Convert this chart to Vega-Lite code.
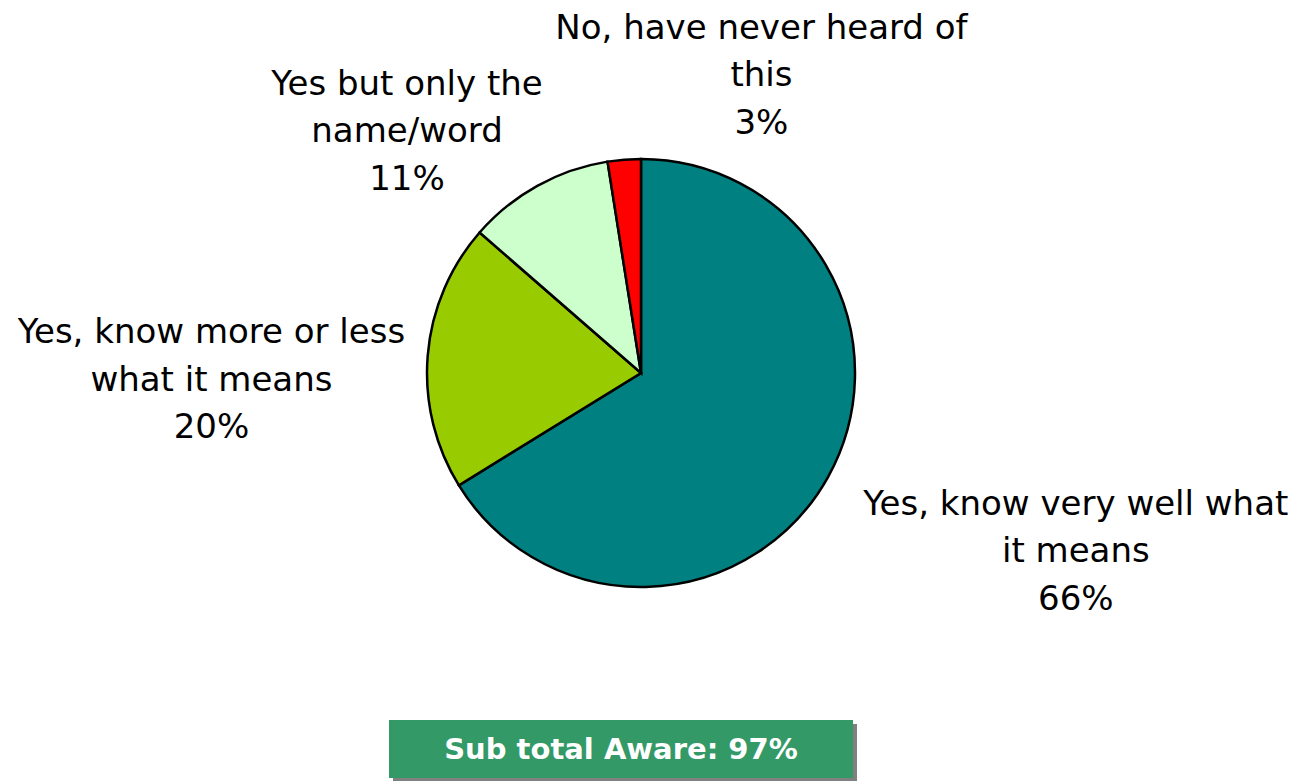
{
  "$schema": "https://vega.github.io/schema/vega-lite/v6.json",
  "padding": 0,
  "background": "white",
  "config": {"view": {"stroke": null}, "font": "DejaVu Sans"},
  "datasets": {
    "slices": [
      {"category": "Yes, know very well what it means", "value": 66.2, "order": 1, "label": "Yes, know very well what\nit means\n66%"},
      {"category": "Yes, know more or less what it means", "value": 20.2, "order": 2, "label": "Yes, know more or less\nwhat it means\n20%"},
      {"category": "Yes but only the name/word", "value": 11.1, "order": 3, "label": "Yes but only the\nname/word\n11%"},
      {"category": "No, have never heard of this", "value": 2.5, "order": 4, "label": "No, have never heard of\nthis\n3%"}
    ],
    "box": [{"text": "Sub total Aware: 97%"}]
  },
  "spacing": 20,
  "center": true,
  "vconcat": [
    {
      "width": 1298,
      "height": 700,
      "data": {"name": "slices"},
      "encoding": {
        "theta": {"field": "value", "type": "quantitative", "stack": true},
        "order": {"field": "order", "type": "quantitative"}
      },
      "layer": [
        {
          "mark": {"type": "arc", "outerRadius": 214, "stroke": "black", "strokeWidth": 2.5, "xOffset": -8, "yOffset": 23},
          "encoding": {
            "color": {
              "field": "category", "type": "nominal", "legend": null,
              "scale": {
                "domain": ["Yes, know very well what it means", "Yes, know more or less what it means", "Yes but only the name/word", "No, have never heard of this"],
                "range": ["#008080", "#99CC00", "#CCFFCC", "#FF0000"]
              }
            }
          }
        },
        {
          "mark": {"type": "text", "clip": true, "radius": 467, "dx": 19, "dy": -73, "fontSize": 34, "lineHeight": 47.5, "lineBreak": "\n", "align": "center", "baseline": "middle", "color": "black"},
          "encoding": {"text": {"condition": {"test": "datum.order === 1", "field": "label"}, "value": ""}}
        },
        {
          "mark": {"type": "text", "clip": true, "radius": 428, "dx": -11, "dy": 18, "fontSize": 34, "lineHeight": 47.5, "lineBreak": "\n", "align": "center", "baseline": "middle", "color": "black"},
          "encoding": {"text": {"condition": {"test": "datum.order === 2", "field": "label"}, "value": ""}}
        },
        {
          "mark": {"type": "text", "clip": true, "radius": 324, "dx": -85, "dy": 18, "fontSize": 34, "lineHeight": 47.5, "lineBreak": "\n", "align": "center", "baseline": "middle", "color": "black"},
          "encoding": {"text": {"condition": {"test": "datum.order === 3", "field": "label"}, "value": ""}}
        },
        {
          "mark": {"type": "text", "clip": true, "radius": 288, "dx": 135, "dy": -34, "fontSize": 34, "lineHeight": 47.5, "lineBreak": "\n", "align": "center", "baseline": "middle", "color": "black"},
          "encoding": {"text": {"condition": {"test": "datum.order === 4", "field": "label"}, "value": ""}}
        }
      ]
    },
    {
      "width": 520,
      "height": 58,
      "data": {"name": "box"},
      "layer": [
        {"mark": {"type": "rect", "color": "#808080", "xOffset": 4, "x2Offset": -52, "yOffset": 4, "y2Offset": 4},
         "encoding": {"x": {"value": 0}, "x2": {"value": "width"}, "y": {"value": 0}, "y2": {"value": "height"}}},
        {"mark": {"type": "rect", "color": "#339966", "x2Offset": -56},
         "encoding": {"x": {"value": 0}, "x2": {"value": "width"}, "y": {"value": 0}, "y2": {"value": "height"}}},
        {"mark": {"type": "text", "color": "white", "fontSize": 29, "fontWeight": "bold", "align": "center", "baseline": "middle", "dx": -28, "dy": 1}, "encoding": {"text": {"field": "text"}}}
      ]
    }
  ]
}
